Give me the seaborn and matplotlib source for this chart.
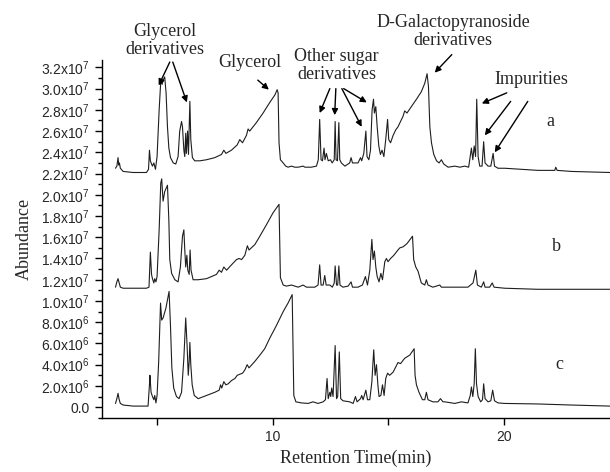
import numpy as np
import pandas as pd
import matplotlib.pyplot as plt
import seaborn as sns
from matplotlib.ticker import FixedLocator, MultipleLocator

# ------------------ DATA ------------------
# (retention time [min], abundance [x1e7])
trace_a = [
    (3.19, 2.25), (3.25, 2.27), (3.30, 2.35), (3.33, 2.28), (3.36, 2.30), (3.40, 2.25),
    (3.52, 2.22), (3.95, 2.21), (4.53, 2.21), (4.62, 2.24), (4.66, 2.42), (4.70, 2.32),
    (4.75, 2.29), (4.79, 2.27), (4.85, 2.30), (4.92, 2.24), (4.99, 2.36), (5.08, 2.80),
    (5.15, 3.07), (5.21, 3.04), (5.25, 3.08), (5.32, 3.11), (5.38, 2.96), (5.44, 2.64),
    (5.50, 2.44), (5.57, 2.35), (5.69, 2.30), (5.80, 2.29), (5.90, 2.36), (5.97, 2.60),
    (6.05, 2.69), (6.09, 2.64), (6.15, 2.42), (6.19, 2.36), (6.23, 2.58), (6.26, 2.39),
    (6.31, 2.60), (6.35, 2.38), (6.41, 2.88), (6.45, 2.52), (6.52, 2.35), (6.62, 2.32),
    (6.84, 2.32), (7.13, 2.33), (7.49, 2.35), (7.78, 2.38), (7.88, 2.42), (7.97, 2.39),
    (8.21, 2.42), (8.36, 2.45), (8.46, 2.47), (8.57, 2.52), (8.69, 2.49), (8.86, 2.56),
    (8.93, 2.62), (9.00, 2.60), (9.29, 2.68), (9.58, 2.77), (9.87, 2.87), (10.09, 2.94),
    (10.19, 2.99), (10.23, 2.96), (10.27, 2.49), (10.33, 2.33), (10.45, 2.30), (10.56, 2.27),
    (10.66, 2.26), (10.81, 2.27), (10.95, 2.26), (11.10, 2.26), (11.31, 2.27), (11.39, 2.26),
    (11.67, 2.26), (11.89, 2.27), (11.97, 2.33), (12.03, 2.71), (12.09, 2.33), (12.15, 2.32),
    (12.22, 2.44), (12.26, 2.33), (12.32, 2.39), (12.40, 2.32), (12.50, 2.33), (12.57, 2.30),
    (12.66, 2.33), (12.70, 2.69), (12.74, 2.33), (12.80, 2.32), (12.86, 2.68), (12.90, 2.33),
    (12.97, 2.30), (13.12, 2.27), (13.33, 2.30), (13.39, 2.35), (13.45, 2.30), (13.69, 2.30),
    (13.80, 2.35), (13.85, 2.32), (13.94, 2.39), (14.03, 2.60), (14.08, 2.36), (14.16, 2.33),
    (14.23, 2.42), (14.30, 2.80), (14.36, 2.90), (14.40, 2.77), (14.46, 2.83), (14.52, 2.64),
    (14.59, 2.46), (14.66, 2.38), (14.73, 2.42), (14.81, 2.36), (14.89, 2.52), (14.97, 2.71),
    (15.02, 2.52), (15.10, 2.49), (15.21, 2.56), (15.32, 2.61), (15.42, 2.64), (15.53, 2.69),
    (15.64, 2.74), (15.71, 2.79), (15.81, 2.77), (16.00, 2.83), (16.22, 2.90), (16.43, 2.97),
    (16.58, 3.05), (16.68, 3.14), (16.74, 3.02), (16.80, 2.64), (16.87, 2.49), (16.97, 2.38),
    (17.09, 2.32), (17.20, 2.30), (17.30, 2.33), (17.40, 2.29), (17.59, 2.26), (17.88, 2.27),
    (18.10, 2.26), (18.31, 2.27), (18.48, 2.26), (18.60, 2.44), (18.66, 2.33), (18.72, 2.46),
    (18.78, 2.36), (18.83, 2.90), (18.89, 2.36), (18.96, 2.27), (19.06, 2.27), (19.13, 2.50),
    (19.19, 2.30), (19.32, 2.27), (19.44, 2.27), (19.54, 2.39), (19.60, 2.27), (19.75, 2.25),
    (20.04, 2.25), (20.77, 2.24), (21.48, 2.23), (22.21, 2.23), (22.25, 2.26), (22.31, 2.23),
    (22.93, 2.22), (24.59, 2.21),
]

trace_b = [
    (3.19, 1.13), (3.25, 1.18), (3.30, 1.21), (3.35, 1.17), (3.40, 1.13), (3.52, 1.12),
    (4.53, 1.12), (4.64, 1.13), (4.70, 1.46), (4.75, 1.25), (4.79, 1.21), (4.85, 1.17),
    (4.89, 1.21), (4.94, 1.18), (4.99, 1.23), (5.08, 1.67), (5.15, 2.11), (5.19, 2.15),
    (5.25, 1.94), (5.32, 2.03), (5.44, 2.09), (5.50, 1.76), (5.54, 1.39), (5.62, 1.26),
    (5.76, 1.20), (5.90, 1.18), (6.00, 1.32), (6.09, 1.61), (6.15, 1.67), (6.19, 1.48),
    (6.23, 1.32), (6.28, 1.43), (6.32, 1.29), (6.38, 1.25), (6.42, 1.48), (6.46, 1.29),
    (6.55, 1.20), (6.77, 1.20), (7.13, 1.21), (7.56, 1.25), (7.68, 1.29), (7.78, 1.27),
    (7.88, 1.32), (8.00, 1.29), (8.21, 1.34), (8.43, 1.39), (8.54, 1.40), (8.65, 1.39),
    (8.79, 1.43), (8.90, 1.52), (8.97, 1.48), (9.22, 1.53), (9.44, 1.61), (9.73, 1.72),
    (10.01, 1.83), (10.27, 1.91), (10.33, 1.22), (10.45, 1.15), (10.59, 1.14), (10.81, 1.15),
    (11.10, 1.13), (11.31, 1.15), (11.46, 1.13), (11.82, 1.13), (11.96, 1.15), (12.03, 1.34),
    (12.09, 1.15), (12.18, 1.15), (12.25, 1.24), (12.31, 1.15), (12.47, 1.15), (12.58, 1.13),
    (12.66, 1.17), (12.70, 1.33), (12.76, 1.15), (12.81, 1.15), (12.86, 1.33), (12.91, 1.15),
    (13.04, 1.13), (13.26, 1.14), (13.39, 1.18), (13.45, 1.13), (13.69, 1.13), (13.88, 1.15),
    (14.01, 1.23), (14.10, 1.15), (14.20, 1.29), (14.29, 1.58), (14.34, 1.39), (14.40, 1.47),
    (14.46, 1.32), (14.52, 1.23), (14.60, 1.18), (14.68, 1.26), (14.75, 1.20), (14.85, 1.37),
    (14.92, 1.40), (14.99, 1.37), (15.10, 1.40), (15.24, 1.43), (15.42, 1.48), (15.50, 1.50),
    (15.64, 1.51), (15.81, 1.54), (16.05, 1.61), (16.10, 1.39), (16.19, 1.32), (16.29, 1.28),
    (16.43, 1.17), (16.58, 1.15), (16.65, 1.20), (16.72, 1.15), (16.93, 1.13), (17.23, 1.15),
    (17.30, 1.13), (17.45, 1.13), (17.88, 1.13), (18.45, 1.13), (18.67, 1.17), (18.79, 1.29),
    (18.86, 1.15), (19.03, 1.13), (19.13, 1.18), (19.19, 1.13), (19.39, 1.13), (19.50, 1.17),
    (19.58, 1.13), (20.04, 1.12), (21.48, 1.11), (22.93, 1.11), (24.59, 1.11),
]

trace_c = [
    (3.19, 0.035), (3.25, 0.08), (3.30, 0.13), (3.35, 0.07), (3.40, 0.035), (3.52, 0.02),
    (3.95, 0.01), (4.60, 0.01), (4.66, 0.21), (4.68, 0.30), (4.73, 0.14), (4.79, 0.10),
    (4.85, 0.07), (4.89, 0.11), (4.94, 0.04), (4.99, 0.11), (5.06, 0.43), (5.14, 0.98),
    (5.19, 0.82), (5.25, 0.84), (5.37, 0.93), (5.51, 1.09), (5.57, 0.77), (5.63, 0.37),
    (5.71, 0.18), (5.83, 0.10), (5.94, 0.08), (6.05, 0.14), (6.15, 0.46), (6.23, 0.84),
    (6.29, 0.58), (6.34, 0.30), (6.38, 0.43), (6.41, 0.61), (6.45, 0.40), (6.51, 0.21),
    (6.60, 0.11), (6.77, 0.08), (7.13, 0.11), (7.49, 0.14), (7.68, 0.16), (7.74, 0.21),
    (7.79, 0.18), (7.88, 0.24), (7.97, 0.21), (8.07, 0.22), (8.21, 0.25), (8.36, 0.27),
    (8.46, 0.30), (8.57, 0.31), (8.69, 0.32), (8.79, 0.35), (8.89, 0.40), (8.97, 0.37),
    (9.22, 0.43), (9.44, 0.49), (9.65, 0.55), (9.87, 0.65), (10.16, 0.77), (10.45, 0.90),
    (10.66, 0.98), (10.84, 1.06), (10.88, 0.52), (10.91, 0.11), (11.00, 0.05), (11.24, 0.04),
    (11.53, 0.035), (11.74, 0.05), (11.96, 0.035), (12.18, 0.05), (12.28, 0.07), (12.35, 0.27),
    (12.40, 0.08), (12.47, 0.14), (12.51, 0.10), (12.55, 0.18), (12.61, 0.10), (12.70, 0.58),
    (12.76, 0.08), (12.81, 0.10), (12.88, 0.52), (12.94, 0.08), (13.04, 0.06), (13.33, 0.05),
    (13.48, 0.035), (13.58, 0.10), (13.65, 0.05), (13.80, 0.08), (13.85, 0.11), (13.91, 0.07),
    (14.03, 0.16), (14.10, 0.07), (14.20, 0.07), (14.29, 0.24), (14.37, 0.54), (14.43, 0.30),
    (14.49, 0.40), (14.55, 0.21), (14.60, 0.10), (14.68, 0.11), (14.75, 0.21), (14.82, 0.11),
    (14.89, 0.27), (14.97, 0.32), (15.06, 0.30), (15.21, 0.33), (15.42, 0.42), (15.53, 0.41),
    (15.71, 0.46), (15.93, 0.49), (16.12, 0.55), (16.16, 0.30), (16.22, 0.21), (16.33, 0.14),
    (16.48, 0.07), (16.58, 0.07), (16.65, 0.14), (16.72, 0.07), (16.93, 0.05), (17.15, 0.05),
    (17.26, 0.08), (17.37, 0.05), (17.45, 0.05), (17.88, 0.035), (18.17, 0.05), (18.45, 0.04),
    (18.55, 0.11), (18.60, 0.19), (18.66, 0.10), (18.72, 0.22), (18.77, 0.55), (18.82, 0.22),
    (18.89, 0.10), (19.00, 0.05), (19.08, 0.07), (19.13, 0.22), (19.19, 0.08), (19.32, 0.05),
    (19.44, 0.06), (19.52, 0.16), (19.60, 0.06), (19.75, 0.04), (20.04, 0.035), (21.48, 0.03),
    (22.93, 0.02), (24.59, 0.01),
]

samples = ["a", "b", "c"]
ytick_values = [0.0, 0.2, 0.4, 0.6, 0.8, 1.0, 1.2, 1.4, 1.6, 1.8, 2.0, 2.2, 2.4, 2.6, 2.8, 3.0, 3.2]
ytick_labels = ["0.0", "2.0x10$^6$", "4.0x10$^6$", "6.0x10$^6$", "8.0x10$^6$",
                "1.0x10$^7$", "1.2x10$^7$", "1.4x10$^7$", "1.6x10$^7$", "1.8x10$^7$",
                "2.0x10$^7$", "2.2x10$^7$", "2.4x10$^7$", "2.6x10$^7$", "2.8x10$^7$",
                "3.0x10$^7$", "3.2x10$^7$"]
xtick_values = [10, 20]
xtick_labels = ["10", "20"]

# ------------------ FRAME ------------------
frames = []
for name, pts in zip(samples, [trace_a, trace_b, trace_c]):
    t, v = zip(*pts)
    frames.append(pd.DataFrame({"time": t, "abundance": np.array(v) * 1e7, "sample": name}))
df = pd.concat(frames, ignore_index=True)

# ------------------ PLOT ------------------
sns.set_style("ticks")
plt.rcParams["font.family"] = ["Liberation Sans", "DejaVu Sans"]
plt.rcParams["mathtext.default"] = "regular"
serif = ["Liberation Serif", "DejaVu Serif"]

fig = plt.figure(figsize=(6.1, 4.72), dpi=100)
ax = fig.add_axes([0.167, 0.114, 0.833, 0.759])

sns.lineplot(data=df, x="time", y="abundance", units="sample", estimator=None,
             sort=False, color="#1e1e1e", lw=0.8, ax=ax)

ax.set_xlim(2.6, 24.6)
ax.set_ylim(-0.104e7, 3.27e7)
sns.despine(ax=ax)
for s in ["left", "bottom"]:
    ax.spines[s].set_linewidth(1.0)
    ax.spines[s].set_color("black")

ax.yaxis.set_major_locator(FixedLocator([v * 1e7 for v in ytick_values]))
ax.set_yticklabels(ytick_labels)
ax.yaxis.set_minor_locator(MultipleLocator(0.1e7))
ax.xaxis.set_major_locator(FixedLocator(xtick_values))
ax.set_xticklabels(xtick_labels)
ax.xaxis.set_minor_locator(FixedLocator([5, 15]))
ax.tick_params(which="major", direction="out", length=5, width=1, labelsize=10, color="black")
ax.tick_params(which="minor", direction="out", length=3, width=1, color="black")
ax.tick_params(axis="x", which="minor", length=5)

ax.set_xlabel("Retention Time(min)", family=serif, fontsize=13)
ax.set_ylabel("Abundance", family=serif, fontsize=13, labelpad=6)

# ------------------ LABELS & ARROWS ------------------
txt = dict(ha="center", va="center", family=serif, fontsize=13)
ax.text(5.32, 3.45e7, "Glycerol\nderivatives", linespacing=1.1, **txt)
ax.text(9.0, 3.25e7, "Glycerol", **txt)
ax.text(12.77, 3.22e7, "Other sugar\nderivatives", linespacing=1.1, **txt)
ax.text(17.8, 3.54e7, "D-Galactopyranoside\nderivatives", linespacing=1.1, **txt)
ax.text(21.2, 3.09e7, "Impurities", **txt)
ax.text(22.03, 2.69e7, "a", **txt)
ax.text(22.29, 1.51e7, "b", **txt)
ax.text(22.42, 0.40e7, "c", **txt)

arrows = [
    ((5.54, 3.25), (5.06, 3.03)), ((5.67, 3.25), (6.28, 2.87)),
    ((9.35, 3.08), (9.83, 2.99)),
    ((12.47, 3.00), (12.03, 2.77)), ((12.73, 3.00), (12.68, 2.75)),
    ((12.99, 3.00), (13.85, 2.64)), ((13.07, 3.00), (14.07, 2.87)),
    ((17.75, 3.32), (17.01, 3.15)),
    ((20.13, 2.96), (19.05, 2.86)), ((20.30, 2.88), (19.18, 2.56)),
    ((21.04, 2.88), (19.61, 2.40)),
]
for (tx, ty), (hx, hy) in arrows:
    ax.annotate("", xy=(hx, hy * 1e7), xytext=(tx, ty * 1e7), annotation_clip=False,
                arrowprops=dict(arrowstyle="-|>", color="black", lw=1.0,
                                mutation_scale=9, shrinkA=0, shrinkB=0))

fig.savefig("out.png", dpi=100)
